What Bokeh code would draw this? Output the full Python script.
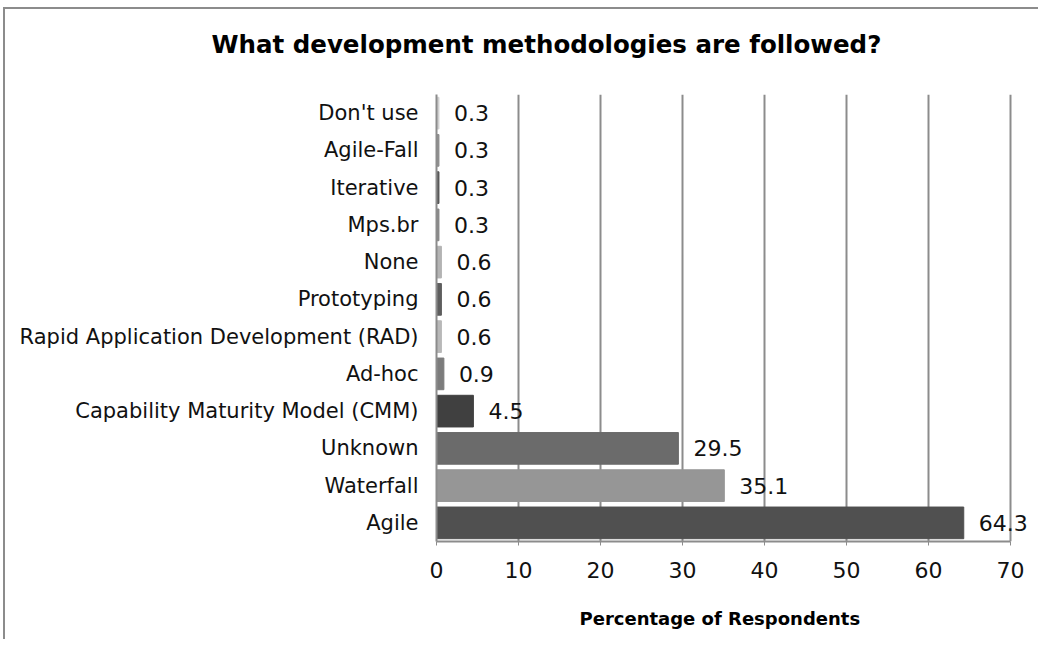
from bokeh.plotting import figure
from bokeh.models import ColumnDataSource, FactorRange, Range1d, FixedTicker, LabelSet, Title
from bokeh.core.properties import value
from bokeh.embed import file_html
from bokeh.resources import INLINE

# Data (bottom to top)
methods = ["Agile", "Waterfall", "Unknown", "Capability Maturity Model (CMM)", "Ad-hoc",
           "Rapid Application Development (RAD)", "Prototyping", "None", "Mps.br",
           "Iterative", "Agile-Fall", "Don't use"]
percent = [64.3, 35.1, 29.5, 4.5, 0.9, 0.6, 0.6, 0.6, 0.3, 0.3, 0.3, 0.3]
bar_colors = ["#505050", "#969696", "#6b6b6b", "#404040", "#7c7c7c", "#b8b8b8",
              "#5e5e5e", "#b4b4b4", "#888888", "#555555", "#8e8e8e", "#d0d0d0"]
ticks = [0, 10, 20, 30, 40, 50, 60, 70]
labels = [f"{v}" for v in percent]
chart_title = "What development methodologies are followed?"
x_title = "Percentage of Respondents"

FONT = "DejaVu Sans"

source = ColumnDataSource(dict(method=methods, pct=percent, color=bar_colors, label=labels))

p = figure(
    y_range=FactorRange(*methods, range_padding=0),
    x_range=Range1d(0, 73.17),
    frame_width=600, frame_height=447,
    min_border_left=431, min_border_right=2, min_border_top=85, min_border_bottom=98,
    output_backend="svg", toolbar_location=None, title=None,
)
p.styles = {"border-left": "2px solid #8c8c8c", "border-top": "2px solid #8c8c8c",
            "margin-left": "3px", "margin-top": "7px"}

# spacer between frame and title
spacer = Title(text=" ", text_font_size="1px", standoff=28)
p.add_layout(spacer, "above")
main_title = Title(text=chart_title, text_font=FONT, text_font_size="24.5px",
                   text_font_style="bold", align="left", offset=-225, standoff=10,
                   text_color="#000000")
p.add_layout(main_title, "above")

p.hbar(y="method", right="pct", height=0.85, left=0, color="color", source=source)

lbls = LabelSet(x="pct", y="method", text="label", source=source, x_offset=15,
                text_baseline="middle", text_align="left", text_font=value(FONT),
                text_font_size="22px", text_color="#111111")
p.add_layout(lbls)

p.outline_line_color = None
p.ygrid.grid_line_color = None
p.xgrid.ticker = FixedTicker(ticks=ticks)
p.xgrid.grid_line_color = "#8c8c8c"
p.xgrid.grid_line_width = 2
p.xgrid.bounds = (0, 70)

xa = p.xaxis[0]
xa.ticker = FixedTicker(ticks=ticks)
xa.bounds = (0, 70)
xa.axis_line_color = "#8c8c8c"
xa.axis_line_width = 2
xa.major_tick_line_color = "#8c8c8c"
xa.major_tick_out = 4
xa.major_tick_in = 0
xa.minor_tick_line_color = None
xa.major_label_text_font = FONT
xa.major_label_text_font_size = "22px"
xa.major_label_text_color = "#111111"
xa.major_label_standoff = 16

# x-axis title, centred under the 0-70 span
spacer_b = Title(text=" ", text_font_size="1px", standoff=22)
p.add_layout(spacer_b, "below")
xlab = Title(text=x_title, text_font=FONT, text_font_size="18px",
             text_font_style="bold", align="left", offset=143, standoff=0,
             text_color="#000000")
p.add_layout(xlab, "below")

ya = p.yaxis[0]
ya.axis_line_color = "#8c8c8c"
ya.axis_line_width = 2
ya.major_tick_line_color = None
ya.major_tick_out = 0
ya.major_tick_in = 0
ya.major_label_text_font = FONT
ya.major_label_text_font_size = "21px"
ya.major_label_text_color = "#111111"
ya.major_label_standoff = 18

open("out.html", "w").write(file_html(p, INLINE))
